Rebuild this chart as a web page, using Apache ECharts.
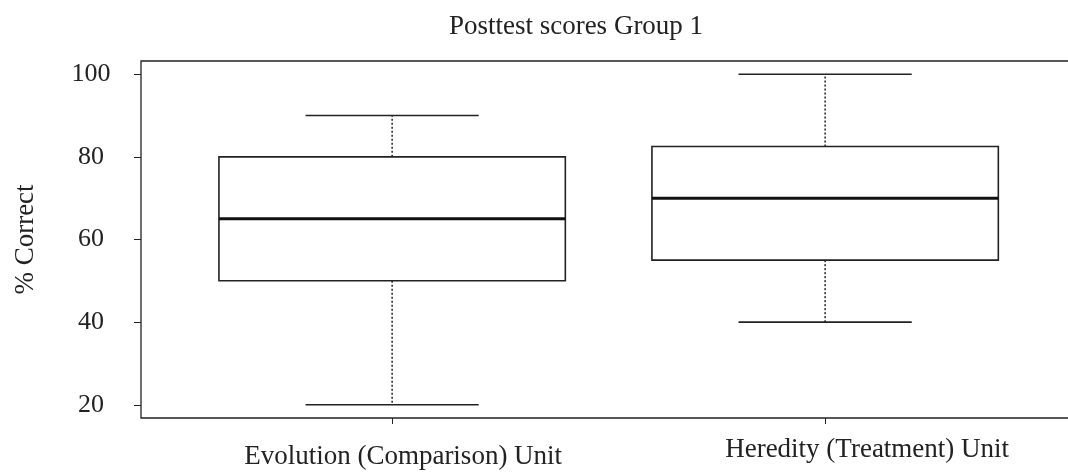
<!DOCTYPE html>
<html>
<head>
<meta charset="utf-8">
<script src="https://cdn.jsdelivr.net/npm/echarts@6/dist/echarts.min.js"></script>
<style>html,body{margin:0;padding:0;background:#fff;overflow:hidden}#c{width:1068px;height:475px}</style>
</head>
<body>
<div id="c"></div>
<script>
const categories = ['Evolution (Comparison) Unit', 'Heredity (Treatment) Unit'];
const positions = [1, 2];
const mins = [20, 40];
const q1s = [50, 55];
const medians = [65, 70];
const q3s = [80, 82.5];
const maxs = [90, 100];
const yTicks = [20, 40, 60, 80, 100];
const titleText = 'Posttest scores Group 1';
const yTitle = '% Correct';

const FONT = 'Liberation Serif';
const INK = '#222';
const data = positions.map((p, i) => [p, mins[i], q1s[i], medians[i], q3s[i], maxs[i]]);

const chart = echarts.init(document.getElementById('c'), null, {renderer: 'canvas'});
chart.setOption({
  animation: false,
  backgroundColor: '#fff',
  title: {
    text: titleText, left: 571, top: 8, textAlign: 'center',
    textStyle: {fontFamily: FONT, fontSize: 27, fontWeight: 'normal', color: '#222'}
  },
  grid: {left: 141, top: 61, width: 1000, height: 357, outerBoundsMode: 'none', containLabel: false,
         show: true, borderColor: INK, borderWidth: 1.3, backgroundColor: 'transparent'},
  xAxis: {
    type: 'value', min: 0.42, max: 2.7295,
    splitLine: {show: false},
    axisLine: {show: false},
    axisTick: {show: true, customValues: positions, length: 6, lineStyle: {color: INK, width: 1}},
    axisLabel: {
      customValues: positions, margin: 22,
      formatter: v => { const i = positions.indexOf(v); return i === 0 ? '{a|' + categories[0] + '}' : '{b|' + categories[1] + '}'; },
      rich: {
        a: {fontFamily: FONT, fontSize: 27, color: '#222', padding: [7, 0, 0, 22], lineHeight: 27},
        b: {fontFamily: FONT, fontSize: 27, color: '#222', padding: [0, 0, 7, 84], lineHeight: 27}
      }
    }
  },
  yAxis: {
    type: 'value', min: 16.8, max: 103.2,
    name: yTitle, nameLocation: 'middle', nameGap: 102, nameRotate: 90,
    nameTextStyle: {fontFamily: FONT, fontSize: 27, color: '#222'},
    splitLine: {show: false},
    axisLine: {show: false},
    axisTick: {show: true, customValues: yTicks, length: 7, lineStyle: {color: INK, width: 1}},
    axisLabel: {customValues: yTicks, margin: 50, align: 'center', fontFamily: FONT, fontSize: 26, color: '#222'}
  },
  series: [{
    type: 'custom',
    data: data,
    encode: {x: 0, y: [1, 2, 3, 4, 5]},
    renderItem: function (params, api) {
      const x = api.value(0);
      const lo = api.coord([x - 0.4, api.value(2)]);
      const hi = api.coord([x + 0.4, api.value(4)]);
      const med0 = api.coord([x - 0.4, api.value(3)]);
      const med1 = api.coord([x + 0.4, api.value(3)]);
      const c = api.coord([x, api.value(1)]);
      const cMax = api.coord([x, api.value(5)]);
      const capL = api.coord([x - 0.2, 0])[0];
      const capR = api.coord([x + 0.2, 0])[0];
      const solid = {stroke: INK, lineWidth: 1.6, fill: null};
      const dashed = {stroke: INK, lineWidth: 1.5, lineDash: [2, 2]};
      return {
        type: 'group',
        children: [
          {type: 'rect', shape: {x: lo[0], y: hi[1], width: hi[0] - lo[0], height: lo[1] - hi[1]}, style: {stroke: INK, lineWidth: 1.6, fill: 'transparent'}},
          {type: 'line', shape: {x1: med0[0], y1: med0[1], x2: med1[0], y2: med1[1]}, style: {stroke: '#111', lineWidth: 3}},
          {type: 'line', shape: {x1: c[0], y1: hi[1], x2: c[0], y2: cMax[1]}, style: dashed},
          {type: 'line', shape: {x1: c[0], y1: lo[1], x2: c[0], y2: c[1]}, style: dashed},
          {type: 'line', shape: {x1: capL, y1: cMax[1], x2: capR, y2: cMax[1]}, style: solid},
          {type: 'line', shape: {x1: capL, y1: c[1], x2: capR, y2: c[1]}, style: solid}
        ]
      };
    }
  }]
});
</script>
</body>
</html>
